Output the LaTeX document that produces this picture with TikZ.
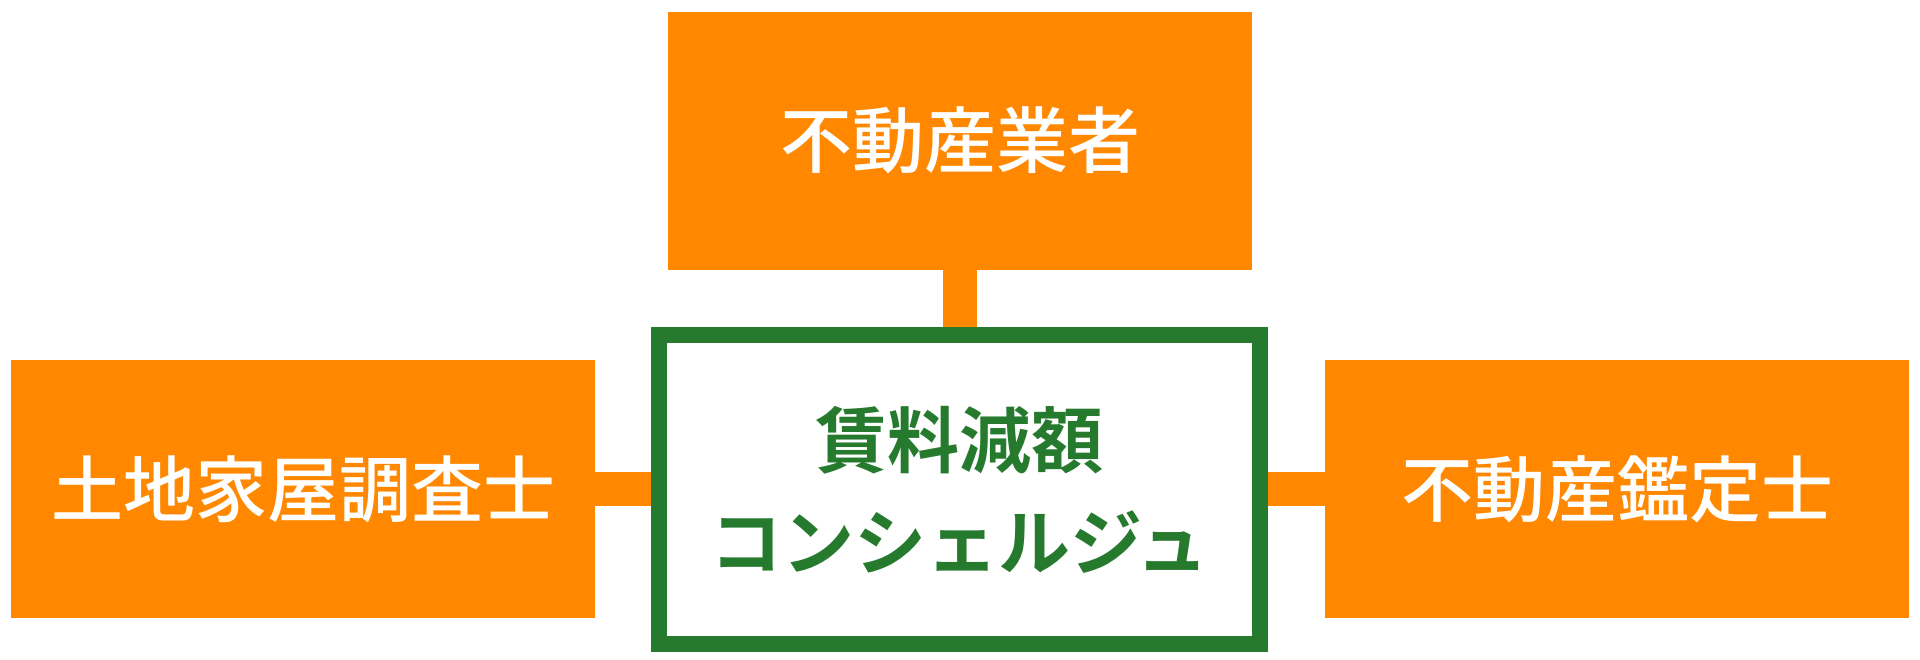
\documentclass[tikz,border=0pt]{standalone}
\usepackage{fontspec}
\setmainfont{Noto Sans CJK JP}[UprightFont={* Medium}, BoldFont={* Bold}]
\usetikzlibrary{backgrounds}
\definecolor{orangebox}{HTML}{FF8800}
\definecolor{greenbox}{HTML}{267A2E}
\tikzset{
  partner/.style={fill=orangebox, draw=none, inner sep=0pt,
    minimum width=292pt, minimum height=129pt,
    text=white, font=\fontsize{36}{44}\selectfont},
  hub/.style={draw=greenbox, line width=8pt, fill=white, inner sep=0pt,
    minimum width=300.5pt, minimum height=154.5pt, align=center,
    text=greenbox, font=\bfseries\fontsize{36}{51}\selectfont},
  link/.style={draw=orangebox, line width=17pt}
}
\begin{document}
\begin{tikzpicture}[x=0.5pt, y=-0.5pt]
\useasboundingbox (0,0) rectangle (1920,659);
\node[partner] (top) at (960,140.5) {不動産業者};
\node[partner] (left) at (303,489) {土地家屋調査士};
\node[partner] (right) at (1617,489) {不動産鑑定士};
\node[hub] (hub) at (959.5,489.5) {賃料減額\\コンシェルジュ};
\begin{scope}[on background layer]
  \draw[link] (top.south) -- (top.south |- hub.north);
  \draw[link] (left.east) -- (left.east -| hub.west);
  \draw[link] (right.west) -- (right.west -| hub.east);
\end{scope}
\end{tikzpicture}
\end{document}
